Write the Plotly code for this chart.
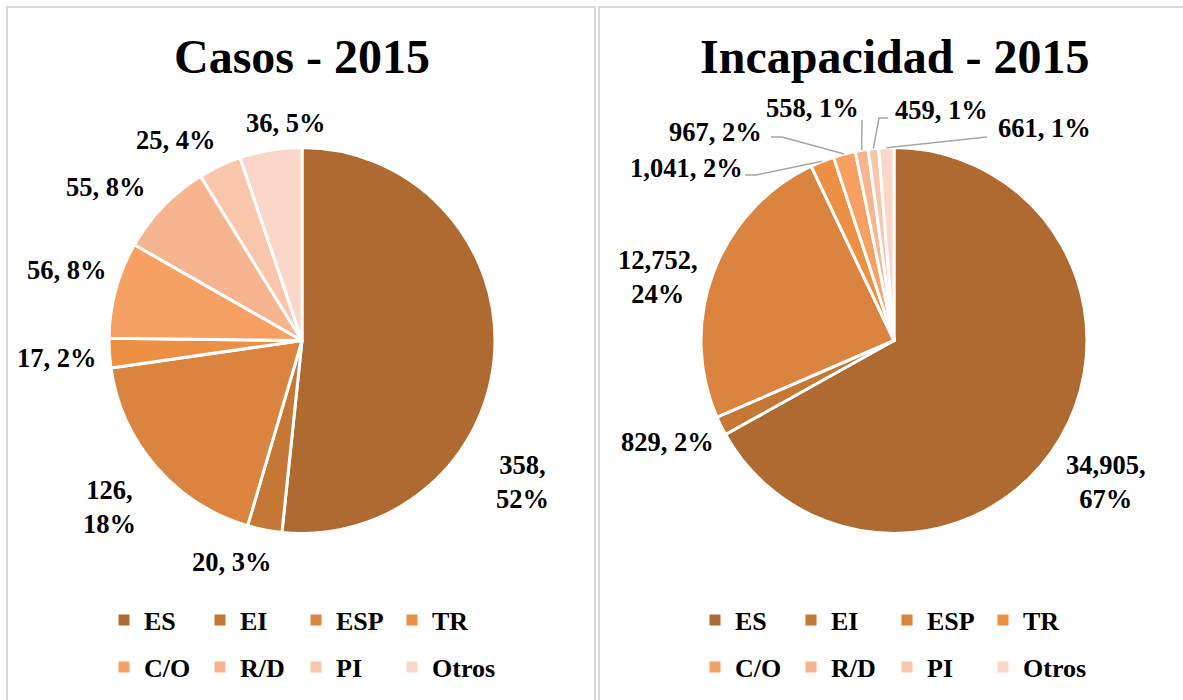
import math
import plotly.graph_objects as go

# ---------------- data ----------------
CATEGORIES = ["ES", "EI", "ESP", "TR", "C/O", "R/D", "PI", "Otros"]
CASOS_2015 = [358, 20, 126, 17, 56, 55, 25, 36]
INCAPACIDAD_2015 = [34905, 829, 12752, 1041, 967, 558, 459, 661]
TITLES = ["Casos - 2015", "Incapacidad - 2015"]

# ---------------- style ----------------
COLORS = ["#AE6A30", "#C57836", "#DA843F", "#EC9143",
          "#F6A064", "#F7B58F", "#F9C6AC", "#FAD7C9"]
FONT = "Liberation Serif, Times New Roman, serif"
W, H = 1183, 700
R = 193
CENTERS = [(302, 340.5), (894, 340.5)]
WRAP = [{0, 2}, {0, 2}]  # labels drawn on two lines
LABEL_PX = [
    [(522, 482), (232, 562), (110, 507), (57, 358), (67, 270), (106, 187), (176, 140), (286, 123)],
    [(1106, 482), (667, 442), (658, 277), (686, 168), (715, 132), (812, 108), (941, 110), (1044, 128)],
]
# leader line start points (pixels) for the right pie; end point is slice edge
LEADERS = {3: [(745, 175), (756, 175)], 4: [(771, 137), (782, 137)],
           5: [(862, 120)], 6: [(888, 118), (879, 118)], 7: [(987, 137)]}
LEGEND_X = [104, 695]
LEGEND_ROWS_Y = [620, 667]


def px(x):
    return x / W


def py(y):
    return 1 - y / H


fig = go.Figure()
series = [CASOS_2015, INCAPACIDAD_2015]
annotations = []
shapes = []

for k, vals in enumerate(series):
    cx, cy = CENTERS[k]
    fig.add_trace(go.Pie(
        labels=CATEGORIES, values=vals, sort=False, direction="clockwise",
        rotation=0, marker=dict(colors=COLORS, line=dict(color="white", width=3)),
        textinfo="none", showlegend=False, hoverinfo="label+value+percent",
        domain=dict(x=[px(cx - R), px(cx + R)], y=[py(cy + R), py(cy - R)]),
    ))
    total = sum(vals)
    cum = 0
    for i, v in enumerate(vals):
        pct = round(100 * v / total)
        sep = ",<br>" if i in WRAP[k] else ", "
        txt = f"{v:,}{sep}{pct}%"
        lx, ly = LABEL_PX[k][i]
        annotations.append(dict(
            x=px(lx), y=py(ly), xref="paper", yref="paper", text=txt,
            showarrow=False, xanchor="center", yanchor="middle", align="center",
            font=dict(family=FONT, size=26.5, color="black", weight="bold"),
        ))
        theta = 2 * math.pi * (cum + v / 2) / total
        ex = cx + R * math.sin(theta)
        ey = cy - R * math.cos(theta)
        if k == 1 and i in LEADERS:
            pts = LEADERS[i] + [(ex, ey)]
            path = "M " + " L ".join(f"{px(a)},{py(b)}" for a, b in pts)
            shapes.append(dict(type="path", path=path, xref="paper", yref="paper",
                               line=dict(color="#A6A6A6", width=1.5)))
        cum += v
    annotations.append(dict(
        x=px(cx), y=py(57), xref="paper", yref="paper", text=TITLES[k],
        showarrow=False, xanchor="center", yanchor="middle",
        font=dict(family=FONT, size=48, color="black", weight="bold"),
    ))

# panel borders
shapes.append(dict(type="rect", xref="paper", yref="paper", x0=px(7), x1=px(595),
                   y0=py(7), y1=py(720), line=dict(color="#D9D9D9", width=2)))
shapes.append(dict(type="rect", xref="paper", yref="paper", x0=px(599), x1=px(1200),
                   y0=py(7), y1=py(720), line=dict(color="#D9D9D9", width=2)))

# legend entries (one legend per row per panel)
legend_names = ["legend", "legend2", "legend3", "legend4"]
for p in range(2):
    for i, cat in enumerate(CATEGORIES):
        row = i // 4
        lname = legend_names[p * 2 + row]
        fig.add_trace(go.Scatter(
            x=[None], y=[None], mode="markers", name=cat,
            marker=dict(symbol="square", size=11, color=COLORS[i]),
            legend=lname, showlegend=True, hoverinfo="skip",
            legendwidth=90 if i % 4 == 3 else None,
        ))

legend_cfg = {}
for p in range(2):
    for row in range(2):
        lname = legend_names[p * 2 + row]
        legend_cfg[lname] = dict(
            orientation="h", x=px(LEGEND_X[p]), xanchor="left",
            y=py(LEGEND_ROWS_Y[row]), yanchor="middle",
            entrywidth=51, entrywidthmode="pixels",
            font=dict(family=FONT, size=26, color="black", weight="bold"),
            bgcolor="rgba(0,0,0,0)", itemclick=False, itemdoubleclick=False,
        )

fig.update_layout(
    width=W, height=H, margin=dict(l=0, r=0, t=0, b=0),
    paper_bgcolor="white", plot_bgcolor="white",
    xaxis=dict(visible=False), yaxis=dict(visible=False),
    annotations=annotations, shapes=shapes,
    **legend_cfg,
)

fig.write_html(
    "out.html",
    config={"displayModeBar": False},
    post_script="document.body.style.margin='0';document.body.style.padding='0';",
)
